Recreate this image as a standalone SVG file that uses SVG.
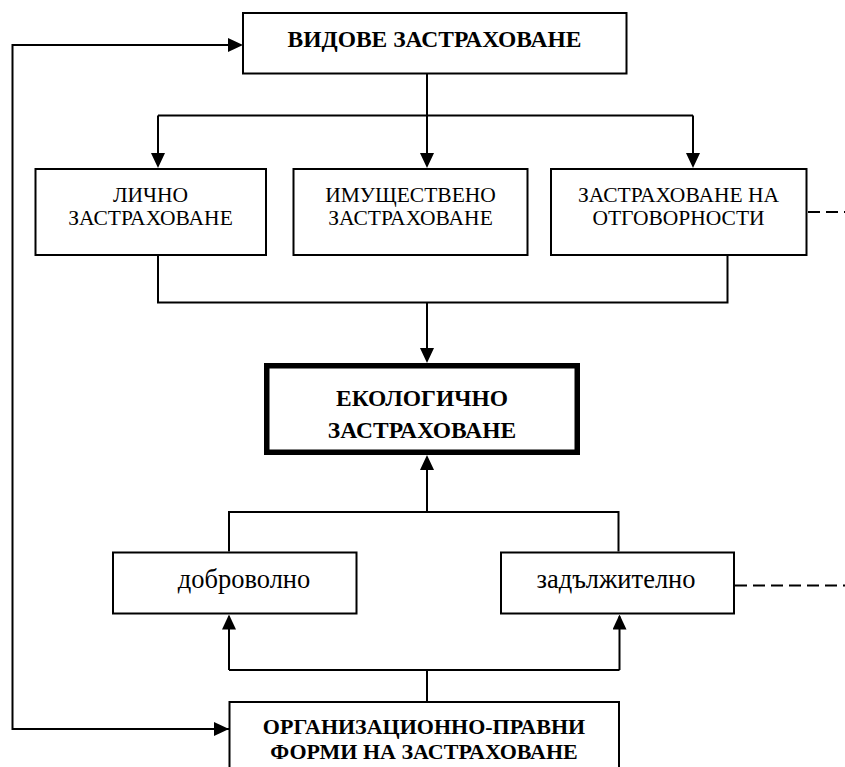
<svg xmlns="http://www.w3.org/2000/svg" width="845" height="767" viewBox="0 0 845 767">
<style>
.box{fill:#fff;stroke:#000;stroke-width:2}
.thick{fill:#fff;stroke:#000;stroke-width:5.5}
.ln{fill:none;stroke:#000;stroke-width:2}
.dash{fill:none;stroke:#000;stroke-width:2;stroke-dasharray:12 6}
.b{font-family:"Liberation Serif","Times New Roman",serif;font-weight:bold;font-size:23.5px;text-anchor:middle;fill:#000}
.r{font-family:"Liberation Serif","Times New Roman",serif;font-size:21.5px;text-anchor:middle;fill:#000}
.l{font-family:"Liberation Serif","Times New Roman",serif;font-size:26.5px;text-anchor:middle;fill:#000}
</style>
<defs>
<marker id="ah" viewBox="0 0 15 14" refX="13" refY="7" markerWidth="15" markerHeight="14" markerUnits="userSpaceOnUse" orient="auto">
<path d="M0,0 L15,7 L0,14 z" fill="#000"/>
</marker>
</defs>
<rect width="845" height="767" fill="#fff"/>
<g id="connectors">
<path class="ln" d="M229,729 H12.5 V45 H241" marker-end="url(#ah)"/>
<path class="ln" d="M12.5,729 H227" marker-end="url(#ah)"/>
<path class="ln" d="M427,74 V115.5"/>
<path class="ln" d="M158,115.5 H693"/>
<path class="ln" d="M158,115.5 V166" marker-end="url(#ah)"/>
<path class="ln" d="M427,115.5 V166" marker-end="url(#ah)"/>
<path class="ln" d="M693,115.5 V166" marker-end="url(#ah)"/>
<path class="ln" d="M158,256 V302.5 H727.5 V256"/>
<path class="ln" d="M427,302.5 V361" marker-end="url(#ah)"/>
<path class="ln" d="M229,551.5 V512 H618.5 V551.5"/>
<path class="ln" d="M427,512 V457" marker-end="url(#ah)"/>
<path class="ln" d="M427,701 V670"/>
<path class="ln" d="M229,670 H619.5"/>
<path class="ln" d="M229,670 V616.5" marker-end="url(#ah)"/>
<path class="ln" d="M619.5,670 V616.5" marker-end="url(#ah)"/>
<path class="dash" d="M808,212 H845"/>
<path class="dash" d="M735,585.5 H845"/>
</g>
<g id="node-vidove">
<rect class="box" x="243" y="13" width="383.5" height="60.5"/>
<text class="b" x="434.5" y="47">ВИДОВЕ ЗАСТРАХОВАНЕ</text>
</g>
<g id="node-lichno">
<rect class="box" x="35.5" y="169" width="230.5" height="86"/>
<text class="r" x="150.5" y="201.5">ЛИЧНО</text>
<text class="r" x="150.5" y="224.5">ЗАСТРАХОВАНЕ</text>
</g>
<g id="node-imushtestveno">
<rect class="box" x="293.5" y="169" width="234" height="86"/>
<text class="r" x="410.5" y="201.5">ИМУЩЕСТВЕНО</text>
<text class="r" x="410.5" y="224.5">ЗАСТРАХОВАНЕ</text>
</g>
<g id="node-otgovornosti">
<rect class="box" x="551" y="169" width="255.5" height="86"/>
<text class="r" x="678.5" y="201.5">ЗАСТРАХОВАНЕ НА</text>
<text class="r" x="678.5" y="224.5">ОТГОВОРНОСТИ</text>
</g>
<g id="node-ekologichno">
<rect class="thick" x="266.75" y="365.75" width="310.5" height="86.5"/>
<text class="b" x="422" y="406">ЕКОЛОГИЧНО</text>
<text class="b" x="422" y="437.5">ЗАСТРАХОВАНЕ</text>
</g>
<g id="node-dobrovolno">
<rect class="box" x="113" y="552.5" width="243.5" height="61"/>
<text class="l" x="244" y="588">доброволно</text>
</g>
<g id="node-zadalzhitelno">
<rect class="box" x="501" y="552.5" width="233" height="61"/>
<text class="l" x="616" y="588">задължително</text>
</g>
<g id="node-organizacionno">
<rect class="box" x="229.5" y="702" width="389.5" height="80"/>
<text class="b" x="424" y="734" style="font-size:22px">ОРГАНИЗАЦИОННО-ПРАВНИ</text>
<text class="b" x="424" y="759" style="font-size:22px">ФОРМИ НА ЗАСТРАХОВАНЕ</text>
</g>
</svg>
